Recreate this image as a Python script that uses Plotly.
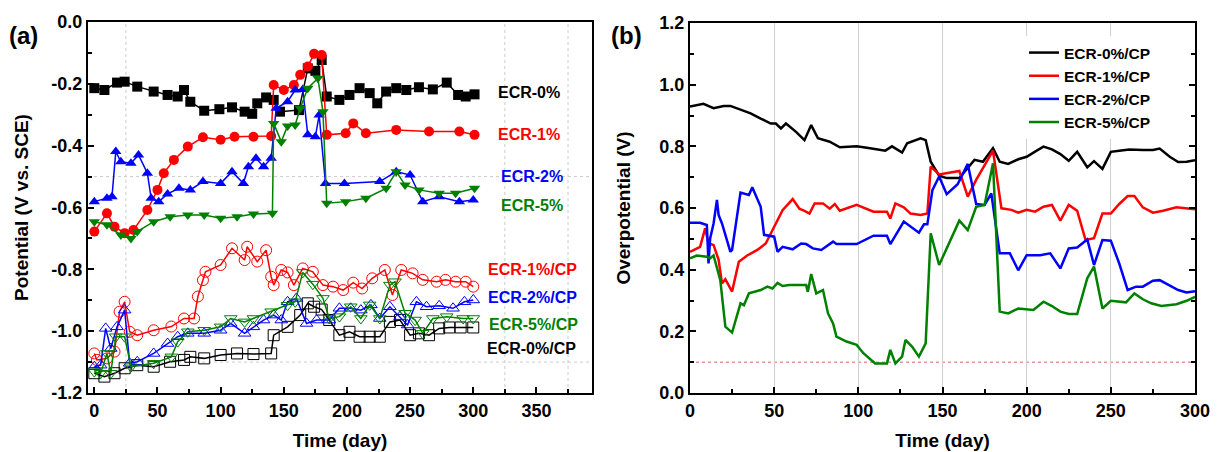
import plotly.graph_objects as go

# ---------------- Panel (a): potential vs time ----------------
a_d0 = [0, 8, 18, 24, 34, 47, 58, 66, 71, 76, 87, 99, 109, 119, 125, 129, 136, 142, 147, 162, 169, 175, 180, 184, 194, 202, 210, 218, 224, 231, 239, 247, 257, 268, 279, 288, 294, 301]
a_v0 = [-0.214, -0.220, -0.196, -0.193, -0.209, -0.225, -0.236, -0.241, -0.220, -0.258, -0.287, -0.282, -0.276, -0.290, -0.297, -0.263, -0.244, -0.252, -0.290, -0.285, -0.150, -0.158, -0.123, -0.241, -0.252, -0.236, -0.214, -0.230, -0.263, -0.225, -0.214, -0.220, -0.211, -0.218, -0.196, -0.236, -0.241, -0.234]

a_d1 = [0, 10, 16, 24, 31, 42, 50, 55, 63, 74, 86, 100, 111, 126, 140, 142, 150, 158, 163, 169, 174, 180, 184, 199, 205, 215, 239, 265, 289, 301]
a_v1 = [-0.678, -0.619, -0.662, -0.683, -0.673, -0.608, -0.543, -0.489, -0.446, -0.403, -0.373, -0.381, -0.371, -0.371, -0.369, -0.204, -0.220, -0.204, -0.171, -0.144, -0.103, -0.107, -0.365, -0.360, -0.328, -0.360, -0.349, -0.354, -0.354, -0.365]

a_d2 = [0, 10, 14, 17, 21, 29, 35, 42, 45, 51, 58, 67, 76, 86, 100, 109, 118, 122, 128, 134, 140, 144, 153, 159, 165, 169, 175, 178, 183, 198, 226, 239, 250, 260, 273, 289, 300]
a_v2 = [-0.581, -0.570, -0.565, -0.419, -0.452, -0.457, -0.430, -0.489, -0.570, -0.581, -0.556, -0.538, -0.543, -0.516, -0.522, -0.484, -0.522, -0.468, -0.441, -0.468, -0.441, -0.279, -0.258, -0.220, -0.218, -0.365, -0.371, -0.301, -0.522, -0.522, -0.516, -0.484, -0.495, -0.581, -0.565, -0.581, -0.576]

a_d5 = [0, 10, 21, 29, 34, 47, 60, 74, 87, 100, 113, 126, 141, 142, 148, 153, 159, 163, 169, 177, 181, 184, 199, 215, 231, 239, 246, 257, 273, 286, 301]
a_v5 = [-0.646, -0.656, -0.689, -0.700, -0.678, -0.646, -0.630, -0.624, -0.624, -0.635, -0.630, -0.621, -0.619, -0.328, -0.387, -0.336, -0.333, -0.279, -0.214, -0.182, -0.290, -0.586, -0.581, -0.570, -0.538, -0.484, -0.527, -0.543, -0.554, -0.554, -0.538]

a_d0cp = [0, 8, 16, 24, 34, 47, 60, 71, 76, 87, 100, 113, 126, 140, 142, 153, 163, 169, 174, 180, 186, 194, 202, 210, 218, 226, 234, 242, 250, 257, 265, 273, 281, 290, 300]
a_v0cp = [-1.136, -1.147, -1.136, -1.120, -1.110, -1.115, -1.099, -1.093, -1.083, -1.088, -1.077, -1.072, -1.074, -1.072, -1.013, -0.986, -0.948, -0.910, -0.921, -0.930, -0.964, -1.013, -1.002, -1.018, -1.018, -1.018, -0.970, -0.964, -1.013, -1.007, -1.013, -0.991, -0.988, -0.988, -0.988]

a_d1cp = [0, 2, 10, 16, 20, 24, 28, 34, 47, 61, 71, 79, 82, 86, 88, 100, 109, 119, 121, 129, 136, 140, 142, 148, 153, 158, 165, 173, 181, 189, 197, 205, 212, 220, 230, 236, 243, 252, 260, 271, 278, 286, 294, 300]
a_v1cp = [-1.072, -1.093, -1.088, -1.066, -0.937, -0.905, -1.002, -1.013, -0.997, -0.985, -0.959, -0.959, -0.888, -0.835, -0.808, -0.786, -0.732, -0.770, -0.727, -0.775, -0.738, -0.824, -0.851, -0.802, -0.810, -0.851, -0.797, -0.808, -0.851, -0.856, -0.867, -0.843, -0.862, -0.829, -0.802, -0.883, -0.802, -0.813, -0.834, -0.840, -0.834, -0.840, -0.840, -0.856]

a_d2cp = [0, 5, 9, 13, 18, 24, 28, 34, 47, 58, 66, 74, 87, 100, 108, 119, 126, 134, 142, 148, 153, 160, 168, 176, 186, 194, 203, 211, 219, 226, 234, 242, 248, 255, 263, 273, 284, 293, 300]
a_v2cp = [-1.115, -1.110, -0.991, -1.056, -0.986, -0.932, -1.104, -1.099, -1.072, -1.040, -1.018, -1.007, -1.007, -0.997, -0.975, -1.007, -0.986, -0.964, -0.948, -0.964, -0.905, -0.894, -0.975, -0.964, -0.964, -0.926, -0.926, -0.932, -0.915, -0.959, -0.921, -0.953, -0.980, -0.905, -0.921, -0.918, -0.926, -0.905, -0.899]

a_d5cp = [0, 5, 10, 13, 17, 24, 29, 47, 61, 66, 74, 87, 100, 108, 119, 126, 140, 153, 159, 165, 173, 181, 186, 194, 203, 211, 218, 226, 234, 238, 246, 254, 260, 268, 279, 292, 300]
a_v5cp = [-1.131, -1.136, -1.072, -1.136, -1.018, -1.018, -1.115, -1.104, -1.083, -1.034, -1.002, -0.997, -0.986, -0.959, -0.970, -0.959, -0.937, -0.916, -0.905, -0.810, -0.848, -0.894, -0.959, -0.953, -0.921, -0.959, -0.915, -0.959, -0.851, -0.840, -0.942, -0.964, -1.007, -0.959, -0.953, -0.959, -0.959]

a_labels = ["ECR-0%", "ECR-1%", "ECR-2%", "ECR-5%", "ECR-1%/CP", "ECR-2%/CP", "ECR-5%/CP", "ECR-0%/CP"]
a_label_x = [318, 318, 320, 320, 310, 310, 311, 309]
a_label_y = [-0.228, -0.363, -0.500, -0.592, -0.802, -0.892, -0.980, -1.057]
a_label_colors = ["#000000", "#ff0000", "#0000ff", "#008000", "#ff0000", "#0000ff", "#008000", "#000000"]

a_yticks = [0.0, -0.2, -0.4, -0.6, -0.8, -1.0, -1.2]
a_yticktext = ["0.0", "-0.2", "-0.4", "-0.6", "-0.8", "-1.0", "-1.2"]
a_xticks = [0, 50, 100, 150, 200, 250, 300, 350]
a_grid_x = [25, 325, 375]
a_grid_y = [-0.5, -1.1]

# ---------------- Panel (b): overpotential vs time ----------------
b_d0 = [0, 8, 14, 20, 24, 30, 36, 42, 48, 51, 54, 57, 63, 68, 72, 76, 83, 89, 99, 107, 116, 120, 126, 129, 137, 140, 143, 148, 152.5, 160, 169, 174, 180, 184, 189, 195, 200, 205, 210, 215, 220, 225, 230, 236, 240, 245, 250, 255, 261, 269, 275, 279, 285, 290, 295, 300]
b_v0 = [0.929, 0.938, 0.924, 0.931, 0.931, 0.918, 0.907, 0.890, 0.874, 0.874, 0.858, 0.874, 0.847, 0.820, 0.869, 0.826, 0.815, 0.797, 0.800, 0.794, 0.786, 0.800, 0.780, 0.810, 0.826, 0.820, 0.750, 0.705, 0.697, 0.697, 0.756, 0.750, 0.794, 0.750, 0.743, 0.758, 0.766, 0.783, 0.799, 0.790, 0.775, 0.753, 0.782, 0.732, 0.752, 0.727, 0.782, 0.786, 0.790, 0.788, 0.788, 0.793, 0.766, 0.749, 0.750, 0.755]

b_d1 = [0, 6, 9, 11, 14, 17, 19, 21, 25, 29, 34, 40, 45, 50, 55, 61, 65, 68, 71, 74, 79, 83, 86, 89, 99, 109, 117, 119, 122, 127, 131, 137, 141, 143, 148, 160, 165, 170, 180, 185, 191, 195, 200, 205, 210, 215, 220, 225, 230, 235, 240, 245, 250, 255, 260, 264, 269, 275, 281, 289, 295, 300]
b_v1 = [0.458, 0.474, 0.534, 0.485, 0.480, 0.432, 0.355, 0.369, 0.329, 0.426, 0.446, 0.464, 0.485, 0.539, 0.593, 0.629, 0.598, 0.591, 0.582, 0.615, 0.615, 0.598, 0.613, 0.591, 0.610, 0.588, 0.588, 0.566, 0.615, 0.602, 0.582, 0.577, 0.582, 0.734, 0.709, 0.720, 0.637, 0.691, 0.786, 0.599, 0.594, 0.585, 0.594, 0.588, 0.604, 0.610, 0.559, 0.610, 0.591, 0.496, 0.502, 0.582, 0.582, 0.613, 0.639, 0.639, 0.602, 0.585, 0.591, 0.602, 0.599, 0.596]

b_d2 = [0, 6, 10, 11, 12, 14, 16, 17, 19, 24, 25, 30, 35, 37, 42, 44, 50, 52, 55, 61, 66, 69, 73, 78, 85, 87, 99, 109, 117, 119, 127, 131, 136, 139, 141, 144, 148, 152.5, 159, 165, 170, 175, 179, 184, 190, 195, 200, 208, 214, 220, 225, 230, 236, 240, 245, 250, 255, 260, 265, 269, 275, 279, 285, 290, 295, 300]
b_v2 = [0.552, 0.552, 0.545, 0.420, 0.502, 0.550, 0.626, 0.577, 0.550, 0.458, 0.464, 0.650, 0.642, 0.667, 0.604, 0.513, 0.507, 0.458, 0.474, 0.466, 0.485, 0.483, 0.469, 0.464, 0.491, 0.483, 0.483, 0.510, 0.510, 0.483, 0.556, 0.539, 0.520, 0.547, 0.547, 0.658, 0.702, 0.645, 0.677, 0.743, 0.613, 0.610, 0.647, 0.453, 0.453, 0.398, 0.447, 0.447, 0.453, 0.404, 0.469, 0.472, 0.498, 0.415, 0.496, 0.494, 0.420, 0.334, 0.345, 0.345, 0.364, 0.366, 0.350, 0.334, 0.326, 0.330]

b_d5 = [0, 4, 10, 12, 14, 18, 21, 25, 30, 32, 35, 42, 46, 49, 52, 55, 59, 69, 70, 72, 75, 79, 82, 85, 87, 93, 99, 103, 110, 117, 119, 122, 126, 128, 132, 136, 140, 141, 143, 148, 160, 165, 170, 175, 180, 184, 189, 195, 204, 210, 215, 220, 225, 230, 236, 240, 245, 250, 259, 264, 269, 274, 280, 289, 295, 300]
b_v5 = [0.437, 0.446, 0.442, 0.437, 0.446, 0.366, 0.215, 0.196, 0.291, 0.285, 0.323, 0.334, 0.345, 0.339, 0.357, 0.347, 0.350, 0.350, 0.328, 0.386, 0.323, 0.334, 0.258, 0.226, 0.183, 0.167, 0.156, 0.129, 0.096, 0.096, 0.140, 0.096, 0.118, 0.172, 0.150, 0.118, 0.161, 0.280, 0.518, 0.415, 0.559, 0.528, 0.604, 0.610, 0.745, 0.264, 0.258, 0.274, 0.269, 0.296, 0.282, 0.264, 0.256, 0.256, 0.372, 0.410, 0.274, 0.299, 0.294, 0.323, 0.304, 0.291, 0.282, 0.288, 0.299, 0.312]

b_names = ["ECR-0%/CP", "ECR-1%/CP", "ECR-2%/CP", "ECR-5%/CP"]
b_threshold = 0.1
b_yticks = [0.0, 0.2, 0.4, 0.6, 0.8, 1.0, 1.2]
b_yticktext = ["0.0", "0.2", "0.4", "0.6", "0.8", "1.0", "1.2"]
b_xticks = [0, 50, 100, 150, 200, 250, 300]

BLACK, RED, BLUE, GREEN = "#000000", "#ff0000", "#0000ff", "#008000"
FONT = "Liberation Sans, Arial, sans-serif"

fig = go.Figure()

filled = [
    (a_d0, a_v0, BLACK, "square"),
    (a_d1, a_v1, RED, "circle"),
    (a_d2, a_v2, BLUE, "triangle-up"),
    (a_d5, a_v5, GREEN, "triangle-down"),
]
opened = [
    (a_d0cp, a_v0cp, BLACK, "square-open"),
    (a_d1cp, a_v1cp, RED, "circle-open"),
    (a_d2cp, a_v2cp, BLUE, "triangle-up-open"),
    (a_d5cp, a_v5cp, GREEN, "triangle-down-open"),
]
for xs, ys, c, sym in opened:
    fig.add_trace(go.Scatter(x=xs, y=ys, mode="lines+markers", xaxis="x", yaxis="y",
                             line=dict(color=c, width=1.5),
                             marker=dict(symbol=sym, size=11, color=c, line=dict(width=1, color=c)),
                             showlegend=False))
for xs, ys, c, sym in filled:
    fig.add_trace(go.Scatter(x=xs, y=ys, mode="lines+markers", xaxis="x", yaxis="y",
                             line=dict(color=c, width=1.5),
                             marker=dict(symbol=sym, size=10, color=c, line=dict(width=0)),
                             showlegend=False))

for i, (xs, ys, c) in enumerate([(b_d0, b_v0, BLACK), (b_d1, b_v1, RED), (b_d2, b_v2, BLUE), (b_d5, b_v5, GREEN)]):
    fig.add_trace(go.Scatter(x=xs, y=ys, mode="lines", xaxis="x2", yaxis="y2",
                             line=dict(color=c, width=2.5), name=b_names[i],
                             legendgroup=b_names[i]))

# reference lines
for gx in a_grid_x:
    fig.add_shape(type="line", xref="x", yref="y domain", x0=gx, x1=gx, y0=0, y1=1,
                  line=dict(color="#cccccc", width=1, dash="dot"), layer="below")
for gy in a_grid_y:
    fig.add_shape(type="line", xref="x domain", yref="y", x0=0, x1=1, y0=gy, y1=gy,
                  line=dict(color="#cccccc", width=1, dash="dot"), layer="below")
fig.add_shape(type="line", xref="x2 domain", yref="y2", x0=0, x1=1, y0=b_threshold, y1=b_threshold,
              line=dict(color="#e06060", width=1, dash="dot"), layer="below")

for t, x, y, c in zip(a_labels, a_label_x, a_label_y, a_label_colors):
    fig.add_annotation(x=x, y=y, xref="x", yref="y", text=t, showarrow=False, xanchor="left",
                       font=dict(family=FONT, size=16, color=c, weight="bold"))

fig.add_annotation(x=7 / 1218, y=1 - 20 / 452, xref="paper", yref="paper", text="(a)", showarrow=False,
                   xanchor="left", font=dict(family=FONT, size=24, color="black", weight="bold"))
fig.add_annotation(x=609 / 1218, y=1 - 20 / 452, xref="paper", yref="paper", text="(b)", showarrow=False,
                   xanchor="left", font=dict(family=FONT, size=24, color="black", weight="bold"))

tickfont = dict(family=FONT, size=18, color="black", weight="bold")
titlefont = dict(family=FONT, size=19, color="black", weight="bold")
common = dict(showline=True, linecolor="black", linewidth=2, ticks="inside", ticklen=6, tickwidth=1.5,
              tickcolor="black", tickfont=tickfont, zeroline=False, showgrid=False, automargin=False)

fig.update_layout(
    template="none",
    width=1218, height=452, margin=dict(l=0, r=0, t=0, b=0, autoexpand=False),
    paper_bgcolor="white", plot_bgcolor="white",
    xaxis=dict(domain=[88 / 1218, 592 / 1218], range=[-5, 394], tickvals=a_xticks, anchor="y",
               mirror=True, minor=dict(ticks="inside", dtick=25, tick0=0, ticklen=4, tickcolor="black", showgrid=False),
               title=dict(text="Time (day)", font=titlefont, standoff=14), **common),
    yaxis=dict(domain=[1 - 393 / 452, 1 - 22 / 452], range=[-1.2, 0], tickvals=a_yticks, ticktext=a_yticktext,
               anchor="x", mirror=True, minor=dict(ticks="inside", dtick=0.1, tick0=0, ticklen=4, tickcolor="black", showgrid=False),
               title=dict(text="Potential (V vs. SCE)", font=titlefont, standoff=18), **common),
    xaxis2=dict(domain=[690 / 1218, 1195 / 1218], range=[0, 300], tickvals=b_xticks, anchor="y2",
                mirror=True, minor=dict(ticks="inside", dtick=25, tick0=0, ticklen=4, tickcolor="black", showgrid=False),
                title=dict(text="Time (day)", font=titlefont, standoff=14),
                **{**common, "showgrid": True, "gridcolor": "#d0d0d0", "gridwidth": 1}),
    yaxis2=dict(domain=[1 - 393 / 452, 1 - 23 / 452], range=[0, 1.2], tickvals=b_yticks, ticktext=b_yticktext,
                anchor="x2", mirror="ticks", minor=dict(ticks="inside", dtick=0.1, tick0=0, ticklen=4, tickcolor="black", showgrid=False),
                title=dict(text="Overpotential (V)", font=titlefont, standoff=24), **common),
    legend=dict(x=1024 / 1218, y=1 - 36 / 452, xanchor="left", yanchor="top", bgcolor="white",
                borderwidth=0, font=dict(family=FONT, size=15.5, color="black", weight="bold"),
                tracegroupgap=0),
)

fig.write_html("out.html")
